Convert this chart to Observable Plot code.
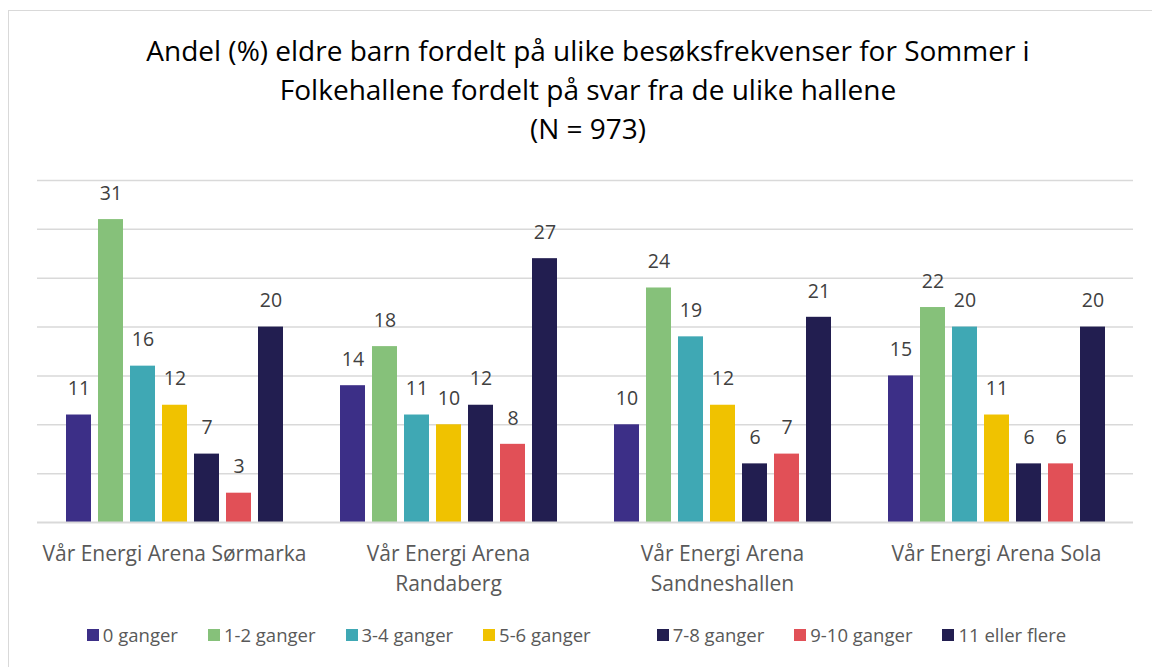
<!DOCTYPE html>
<html>
<head>
<meta charset="utf-8">
<script src="https://cdn.jsdelivr.net/npm/d3@7"></script>
<script src="https://cdn.jsdelivr.net/npm/@observablehq/plot@0.6"></script>
<style>
  html, body { margin: 0; padding: 0; background: #fff; }
  body { width: 1152px; height: 667px; overflow: hidden; position: relative; font-family: "Open Sans", sans-serif; }
  #frame { position: absolute; left: 8px; top: 10px; width: 1160px; height: 680px; border: 1.5px solid #d9d9d9; box-sizing: border-box; }
  #title { position: absolute; left: 0; top: 31px; width: 1176px; text-align: center; font-size: 28px; line-height: 39px; color: #000; }
  #chart { position: absolute; left: 0; top: 170px; }
  #legend { position: absolute; left: 0; top: 622px; width: 1153px; display: flex; justify-content: center; gap: 30px; font-size: 18.5px; color: #595959; }
  .item { display: flex; align-items: center; gap: 4px; }
  .sw { width: 12px; height: 12px; display: inline-block; }
</style>
</head>
<body>
<div id="frame"></div>
<div id="title">Andel (%) eldre barn fordelt på ulike besøksfrekvenser for Sommer i<br>Folkehallene fordelt på svar fra de ulike hallene<br>(N = 973)</div>
<div id="chart"></div>
<div id="legend"></div>
<script>
const halls = ["Vår Energi Arena Sørmarka", "Vår Energi Arena Randaberg", "Vår Energi Arena Sandneshallen", "Vår Energi Arena Sola"];
const hallLabels = ["Vår Energi Arena Sørmarka", "Vår Energi Arena\nRandaberg", "Vår Energi Arena\nSandneshallen", "Vår Energi Arena Sola"];
const series = ["0 ganger", "1-2 ganger", "3-4 ganger", "5-6 ganger", "7-8 ganger", "9-10 ganger", "11 eller flere"];
const colors = ["#3c2f87", "#86c17a", "#3fa8b4", "#f0c200", "#221e50", "#e15057", "#221e50"];
const values = [
  [11, 31, 16, 12, 7, 3, 20],   // Sørmarka
  [14, 18, 11, 10, 12, 8, 27],  // Randaberg
  [10, 24, 19, 12, 6, 7, 21],   // Sandneshallen
  [15, 22, 20, 11, 6, 6, 20]    // Sola
];
const gridTicks = [5, 10, 15, 20, 25, 30, 35];

const data = [];
halls.forEach((h, i) => series.forEach((s, j) => data.push({hall: h, series: s, value: values[i][j]})));

const chart = Plot.plot({
  width: 1152,
  height: 440,
  marginLeft: 37,
  marginRight: 19,
  marginTop: 10,
  marginBottom: 88,
  style: {fontFamily: "'Open Sans', sans-serif", background: "transparent"},
  fx: {domain: halls, padding: 0, label: null},
  x: {domain: series, paddingInner: 0.226, paddingOuter: 0.85, axis: null},
  y: {domain: [0, 35], axis: null},
  color: {domain: series, range: colors},
  marks: [
    Plot.ruleY(gridTicks, {stroke: "#d9d9d9", strokeWidth: 1.5, strokeOpacity: 1}),
    Plot.barY(data, {fx: "hall", x: "series", y: "value", fill: "series"}),
    Plot.ruleY([0], {stroke: "#d9d9d9", strokeWidth: 2, strokeOpacity: 1}),
    Plot.text(data, {fx: "hall", x: "series", y: "value", text: d => String(d.value), lineAnchor: "middle", dy: -26, fontSize: 19.5, fill: "#404040"}),
    Plot.axisFx({anchor: "bottom", tickSize: 0, tickPadding: 17, fontSize: 21, lineHeight: 1.43, fill: "#595959", tickFormat: d => hallLabels[halls.indexOf(d)], label: null})
  ]
});
document.getElementById("chart").appendChild(chart);

const legend = document.getElementById("legend");
series.forEach((s, j) => {
  const it = document.createElement("div");
  it.className = "item";
  if (j === 3) it.style.marginRight = "36px";
  it.innerHTML = `<span class="sw" style="background:${colors[j]}"></span><span>${s}</span>`;
  legend.appendChild(it);
});
</script>
</body>
</html>
